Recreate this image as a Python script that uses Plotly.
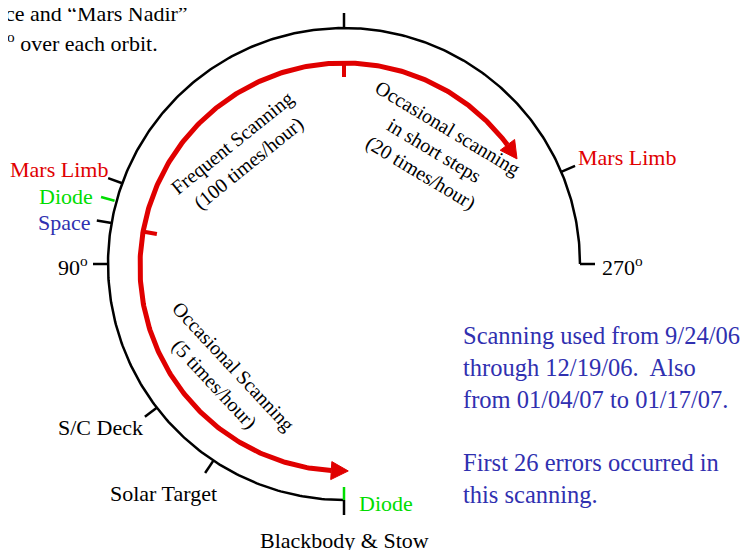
import numpy as np
import plotly.graph_objects as go

W, H = 748, 550
OFF = 8  # page body margin of the written html
FONT = "Liberation Serif"
RED = "#e00000"
GREEN = "#00dd00"
BLUE = "#3030b0"

# ---- data: scan-mirror positions (degrees, 0 = Blackbody & Stow, increasing toward 270) ----
scale_span = [0, 270]
tick_names = ["Blackbody & Stow", "Diode", "Solar Target", "S/C Deck", "90<sup>o</sup>",
              "Space", "Diode", "Mars Limb", "top", "Mars Limb", "270<sup>o</sup>"]
tick_angles = [0, 0, 33.6, 52.5, 90, 100, 105.4, 110, 180, 247, 270]
tick_colors = ["black", GREEN, "black", "black", "black", "black", GREEN, "black", "black", "black", "black"]
tick_dir = [1, -1, 1, 1, 1, 1, 1, 1, 1, 1, 1]   # 1 outward, -1 inward

# scanning segments (degrees)
segment_bounds = [0, 100, 180, 238]
segment_labels = ["Occasional Scanning<br>(5 times/hour)",
                  "Frequent Scanning<br>(100 times/hour)",
                  "Occasional scanning<br>in short steps<br>(20 times/hour)"]

notes = ["Scanning used from 9/24/06", "through 12/19/06.  Also", "from 01/04/07 to 01/17/07.",
         "", "First 26 errors occurred in", "this scanning."]

# ---- geometry (pixel space) ----
CX, CY, R = 344, 264, 236
RCX, RCY, RR = 344, 267, 204


def pt(theta, r, cx, cy):
    t = np.radians(theta)
    return cx - r * np.sin(t), cy + r * np.cos(t)


fig = go.Figure()

# black scale arc
th = np.linspace(scale_span[0], scale_span[1], 400)
x, y = pt(th, R, CX, CY)
fig.add_trace(go.Scatter(x=x, y=y, mode="lines", line=dict(color="black", width=2.5),
                         hoverinfo="skip"))

# ticks on the scale
for a, c, d in zip(tick_angles, tick_colors, tick_dir):
    if d > 0:
        r0, r1 = (R + 2, R + 16) if c == GREEN else (R, R + 15)
    else:
        r0, r1 = R - 13, R
    x0, y0 = pt(a, r0, CX, CY)
    x1, y1 = pt(a, r1, CX, CY)
    fig.add_trace(go.Scatter(x=[x0, x1], y=[y0, y1], mode="lines",
                             line=dict(color=c, width=2.5), hoverinfo="skip"))

# red scanning arc
head_len, head_w = 17, 9
d_head = np.degrees(head_len / RR)
t_start = segment_bounds[0] - 1.2
t_end = segment_bounds[-1]
th = np.linspace(t_start + d_head, t_end - d_head, 400)
x, y = pt(th, RR, RCX, RCY)
fig.add_trace(go.Scatter(x=x, y=y, mode="lines", line=dict(color=RED, width=5),
                         hoverinfo="skip"))

# arrowheads
for tip, base in [(t_start, t_start + d_head), (t_end, t_end - d_head)]:
    tx, ty = pt(tip, RR, RCX, RCY)
    ax1, ay1 = pt(base, RR - head_w, RCX, RCY)
    ax2, ay2 = pt(base, RR + head_w, RCX, RCY)
    fig.add_trace(go.Scatter(x=[tx, ax1, ax2, tx], y=[ty, ay1, ay2, ty], mode="lines",
                             fill="toself", fillcolor=RED, line=dict(color=RED, width=1),
                             hoverinfo="skip"))

# red segment dividers
for a in segment_bounds[1:-1]:
    x0, y0 = pt(a, RR + 2, RCX, RCY)
    x1, y1 = pt(a, RR - 14, RCX, RCY)
    fig.add_trace(go.Scatter(x=[x0, x1], y=[y0, y1], mode="lines",
                             line=dict(color=RED, width=4), hoverinfo="skip"))

ann = []


def txt(x, y, s, color="black", size=22, xa="center", ya="middle", angle=0, align="center"):
    ann.append(dict(x=x, y=y, text=s, showarrow=False, xanchor=xa, yanchor=ya,
                    textangle=angle, align=align,
                    font=dict(family=FONT, size=size, color=color)))


# scale labels
txt(110, 169, "Mars Limb", RED, xa="right")
txt(95, 196, "Diode", GREEN, xa="right")
txt(93, 222, "Space", BLUE, xa="right")
txt(90, 266, tick_names[4], xa="right")
txt(145, 427, "S/C Deck", xa="right")
txt(219, 493, "Solar Target", xa="right")
txt(344, 540, tick_names[0])
txt(357, 503, "Diode", GREEN, xa="left")
txt(600, 266, tick_names[-1], xa="left")
txt(576, 157, "Mars Limb", RED, xa="left")

# segment labels
txt(224, 375, segment_labels[0], size=20, angle=47)
txt(240, 153, segment_labels[1], size=20, angle=-39)
txt(434, 150, segment_labels[2], size=20, angle=31)

# notes
txt(461, 415, "<br>".join(notes), BLUE, size=24.5, xa="left", align="left")

# header (cut off at left)
txt(190, 13, "Space and \u201cMars Nadir\u201d", xa="right")
txt(160, 42, "13<sup>o</sup> over each orbit.", xa="right")

fig.update_layout(width=W - OFF, height=H - OFF, margin=dict(l=0, r=0, t=0, b=0),
                  paper_bgcolor="white", plot_bgcolor="white", showlegend=False,
                  xaxis=dict(range=[OFF, W], visible=False, fixedrange=True),
                  yaxis=dict(range=[H, OFF], visible=False, fixedrange=True),
                  annotations=ann)
fig.write_html("out.html")
